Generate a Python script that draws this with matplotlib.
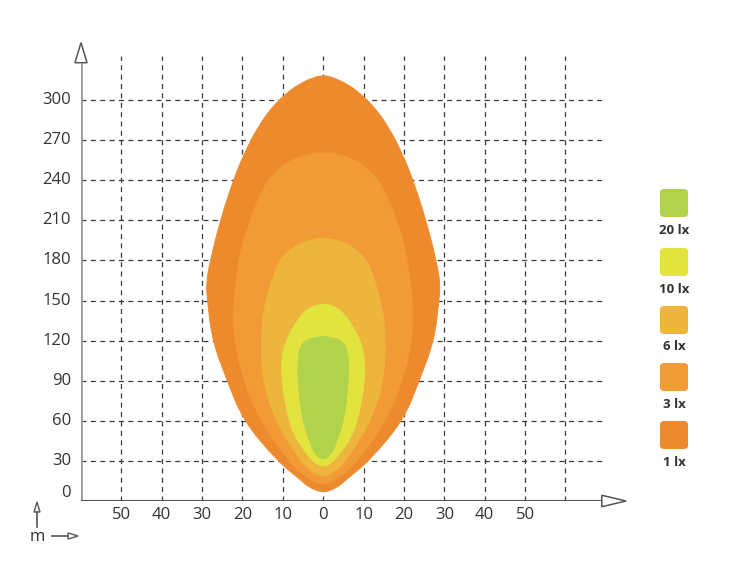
import matplotlib
matplotlib.use("Agg")
import matplotlib.pyplot as plt
import numpy as np
from matplotlib.patches import FancyBboxPatch, Polygon, PathPatch
from matplotlib.path import Path

plt.rcParams['font.family'] = ['Open Sans', 'DejaVu Sans']

# ---- data ----
levels = ["1 lx", "3 lx", "6 lx", "10 lx", "20 lx"]
colors = ["#EE8A2E", "#F19A36", "#EDB53B", "#E2E33F", "#B1D34C"]

# contour profiles: distance (m) and half-width (m) at that distance
lx1_y = [6, 10, 16, 30, 60, 90, 120, 150, 163, 180, 210, 240, 260, 280, 295, 305, 312, 317, 318.6]
lx1_w = [0, 3.5, 5.7, 11.4, 19.8, 23.8, 27.5, 28.7, 29, 28, 25.5, 22.3, 19.6, 16.2, 12.6, 9.2, 6, 2.5, 0]

lx3_y = [12, 16, 30, 60, 90, 120, 140, 160, 188, 212, 238, 250, 255, 259.5, 261]
lx3_w = [0, 3.5, 8.7, 15.6, 19.8, 22, 22.3, 21.8, 20.5, 18, 14.4, 10.5, 8, 4, 0]

lx6_y = [18, 22, 30, 60, 90, 120, 143, 163, 180, 190, 195, 197]
lx6_w = [0, 3, 5.7, 11.9, 15, 15.5, 14.8, 13, 11, 7.5, 4, 0]

lx10_y = [25, 30, 45, 60, 90, 110, 120, 130, 138, 145, 148]
lx10_w = [0, 2.8, 6.5, 8.6, 10.4, 10.2, 9.2, 7.5, 5.7, 3.5, 0]

lx20_y = [30.6, 35, 40, 60, 90, 105, 115, 120, 122, 123.5]
lx20_w = [0, 2, 2.8, 5.2, 6.3, 6.3, 5.8, 4.5, 2.5, 0]

profiles = [(lx1_y, lx1_w), (lx3_y, lx3_w), (lx6_y, lx6_w), (lx10_y, lx10_w), (lx20_y, lx20_w)]

y_ticks = [0, 30, 60, 90, 120, 150, 180, 210, 240, 270, 300]
x_ticks = [-50, -40, -30, -20, -10, 0, 10, 20, 30, 40, 50]
x_tick_labels = ["50", "40", "30", "20", "10", "0", "10", "20", "30", "40", "50"]
x_grid = [-50, -40, -30, -20, -10, 0, 10, 20, 30, 40, 50, 60]


def smooth_closed_path(pts):
    """Closed path of quadratic Bezier segments using the points as control points."""
    pts = np.asarray(pts, float)
    n = len(pts)
    mids = (pts + np.roll(pts, -1, axis=0)) / 2.0
    verts = [mids[-1]]
    codes = [Path.MOVETO]
    for i in range(n):
        verts += [pts[i], mids[i]]
        codes += [Path.CURVE3, Path.CURVE3]
    return Path(verts, codes)


# ---- figure ----
W, H = 735, 579
fig = plt.figure(figsize=(W / 100, H / 100), dpi=100)
ax = fig.add_axes([81 / W, (H - 501) / H, (626 - 81) / W, (501 - 40) / H])
ax.set_xlim(-60, 75)
ax.set_ylim(0, 345)
ax.axis('off')

grid_kw = dict(color="#3a3a3a", lw=0.9, ls=(0, (4, 3.5)), zorder=1)
for gx in x_grid:
    ax.plot([gx, gx], [0, 333], **grid_kw)
for gy in y_ticks[1:]:
    ax.plot([-60, 70], [gy, gy], **grid_kw)

for (py, pw), c in zip(profiles, colors):
    py = np.asarray(py, float)
    pw = np.asarray(pw, float)
    # right side bottom->top, left side top->bottom (skip duplicated apex points)
    xs = np.concatenate([pw, -pw[::-1][1:-1]])
    ys = np.concatenate([py, py[::-1][1:-1]])
    path = smooth_closed_path(np.column_stack([xs, ys]))
    ax.add_patch(PathPatch(path, facecolor=c, edgecolor=c, lw=0.6, zorder=3))

# axes lines with hollow arrowheads
ax.plot([-60, -60], [0, 328], color="#9a9a9a", lw=2.0, zorder=4, solid_capstyle='butt')
ax.add_patch(Polygon([[-61.5, 328], [-58.5, 328], [-60, 343]], closed=True,
                     facecolor="white", edgecolor="#555555", lw=1.1, zorder=5, clip_on=False))
ax.plot([-60, 69], [0, 0], color="#555555", lw=1.5, zorder=4)
ax.add_patch(Polygon([[69, -4.3], [69, 4.3], [75, 0]], closed=True,
                     facecolor="white", edgecolor="#555555", lw=1.1, zorder=5, clip_on=False))

# tick labels
txt_kw = dict(fontsize=12, color="#333333", clip_on=False)
for t in y_ticks:
    yy = t if t != 0 else 6
    ax.text(-62.5, yy, str(t), ha="right", va="center", **txt_kw)
for t, lab in zip(x_ticks, x_tick_labels):
    ax.text(t, -10.5, lab, ha="center", va="center", **txt_kw)

# unit marker bottom-left
fig.text(37 / W, 1 - 537 / H, "m", ha="center", va="center", fontsize=12, color="#333333")
fig.patches.append(Polygon([[34 / W, 1 - 512 / H], [40 / W, 1 - 512 / H], [37 / W, 1 - 502 / H]],
                           closed=True, transform=fig.transFigure, facecolor="white",
                           edgecolor="#555555", lw=1.0))
fig.lines.append(plt.Line2D([37 / W, 37 / W], [1 - 527 / H, 1 - 512 / H], transform=fig.transFigure,
                            color="#555555", lw=1.2))
fig.lines.append(plt.Line2D([52 / W, 68 / W], [1 - 536 / H, 1 - 536 / H], transform=fig.transFigure,
                            color="#555555", lw=1.2))
fig.patches.append(Polygon([[68 / W, 1 - 533 / H], [68 / W, 1 - 539 / H], [78 / W, 1 - 536 / H]],
                           closed=True, transform=fig.transFigure, facecolor="white",
                           edgecolor="#555555", lw=1.0))

# legend (top item = highest level)
leg_sq_y = [435, 377, 320, 262, 203]
for lab, c, sy in zip(levels, colors, leg_sq_y):
    s = 28
    x0 = 660
    fig.patches.append(FancyBboxPatch((x0 / W, 1 - (sy + s / 2) / H), s / W, s / H,
                                      boxstyle="round,pad=0,rounding_size=0.006",
                                      transform=fig.transFigure, facecolor=c, edgecolor="none"))
    fig.text((x0 + s / 2) / W, 1 - (sy + 27) / H, lab, ha="center", va="center",
             fontsize=9.5, fontweight="bold", color="#333333")

fig.savefig("out.png", dpi=100)
